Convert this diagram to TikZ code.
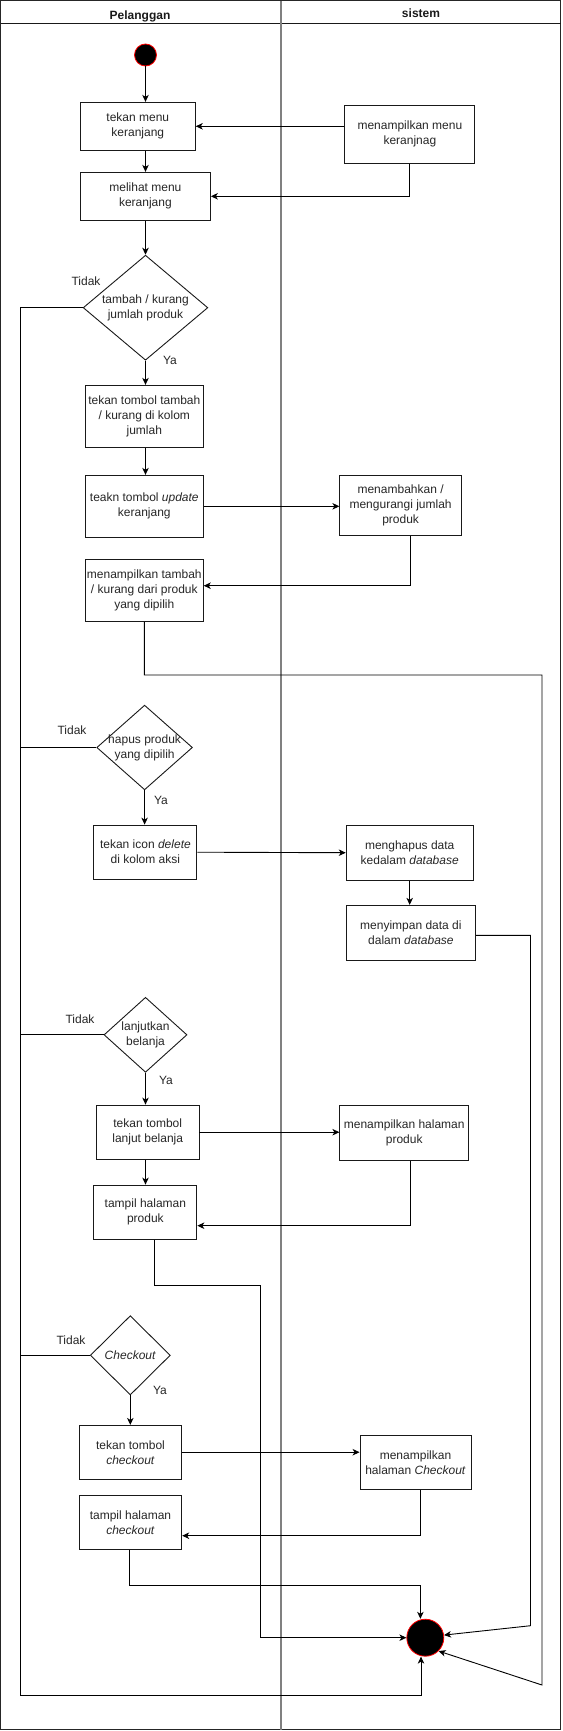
\documentclass[tikz,border=0pt]{standalone}
\usepackage{fontspec}
\setmainfont{Liberation Sans}
\usetikzlibrary{arrows.meta,shapes.geometric,calc}
\begin{document}
\begin{tikzpicture}[x=1pt,y=-1pt,
  every node/.style={font=\fontsize{12}{15}\selectfont, text=black!85},
  box/.style={draw=black!90, line width=0.9pt, rectangle, align=center, inner sep=0pt},
  dec/.style={draw=black!90, line width=0.9pt, diamond, inner sep=0pt},
  dect/.style={align=center, inner sep=0pt},
  dot/.style={circle, fill=black, draw=red, line width=0.8pt, inner sep=0pt},
  lbl/.style={inner sep=1pt},
  hdr/.style={font=\bfseries\fontsize{12}{15}\selectfont, text=black!90},
  arr/.style={draw=black, line width=0.9pt, -{Stealth[length=7pt,width=6.5pt,inset=2pt]}},
  ln/.style={draw=black, line width=0.9pt}]
\useasboundingbox (0,0) rectangle (562,1731);
% frame
\draw[black!85, line width=1.3pt] (0.8,0.8) rectangle (560.6,1729.6);
\draw[black!90, line width=1pt] (0.8,23.3) -- (560.6,23.3);
\draw[black!50, line width=2pt] (280.7,0.8) -- (280.7,1729.6);
\node[hdr] (h1) at (140,16) {Pelanggan};
\node[hdr] (h2) at (421,13) {sistem};

% nodes
\node[dot, minimum size=22pt] (start) at (145.5,55) {};
\node[box, minimum width=115pt, minimum height=48pt] (b1) at (137.8,126.3) {tekan menu\\keranjang};
\node[box, minimum width=130pt, minimum height=58pt] (s1) at (409.9,134.3) {menampilkan menu\\keranjnag};
\node[box, minimum width=130pt, minimum height=48pt] (b2) at (145.4,196.3) {melihat menu\\keranjang};
\node[dec, minimum width=124.7pt, minimum height=105pt] (d1) at (145.5,307.7) {};
\node[dect] (d1t) at (d1) {tambah / kurang\\jumlah produk};
\node[box, minimum width=118pt, minimum height=62pt] (b3) at (144.3,416.3) {tekan tombol tambah\\/ kurang di kolom\\jumlah};
\node[box, minimum width=118pt, minimum height=62pt] (b4) at (144.3,506.3) {teakn tombol \textit{update}\\keranjang};
\node[box, minimum width=121.5pt, minimum height=60pt] (s2) at (400.6,505.2) {menambahkan /\\mengurangi jumlah\\produk};
\node[box, minimum width=118pt, minimum height=62pt] (b5) at (144.3,590.3) {menampilkan tambah\\/ kurang dari produk\\yang dipilih};
\node[dec, minimum width=95.7pt, minimum height=84.7pt] (d2) at (144.6,747.5) {};
\node[dect] (d2t) at (d2) {hapus produk\\yang dipilih};
\node[box, minimum width=103pt, minimum height=54.3pt] (b6) at (145.4,852.2) {tekan icon \textit{delete}\\di kolom aksi};
\node[box, minimum width=127pt, minimum height=55pt] (s3) at (409.7,852.7) {menghapus data\\kedalam \textit{database}};
\node[box, minimum width=129.4pt, minimum height=55pt] (s4) at (410.9,932.8) {menyimpan data di\\dalam \textit{database}};
\node[dec, minimum width=83pt, minimum height=75pt] (d3) at (145.5,1034.8) {};
\node[dect] (d3t) at (d3) {lanjutkan\\belanja};
\node[box, minimum width=102.5pt, minimum height=54.3pt] (b7) at (147.7,1132.2) {tekan tombol\\lanjut belanja};
\node[box, minimum width=128.7pt, minimum height=55pt] (s5) at (404.2,1132.7) {menampilkan halaman\\produk};
\node[box, minimum width=103pt, minimum height=54.3pt] (b8) at (145.4,1212.2) {tampil halaman\\produk};
\node[dec, minimum width=80pt, minimum height=79.3pt] (d4) at (130.3,1355.3) {};
\node[dect] (d4t) at (d4) {\textit{Checkout}};
\node[box, minimum width=102.5pt, minimum height=53.7pt] (b9) at (130.5,1452.2) {tekan tombol\\\textit{checkout}};
\node[box, minimum width=111pt, minimum height=54pt] (s6) at (415.5,1462.3) {menampilkan\\halaman \textit{Checkout}};
\node[box, minimum width=102.5pt, minimum height=54pt] (b10) at (130.5,1522.3) {tampil halaman\\\textit{checkout}};
\node[dot, minimum size=37pt] (end) at (425.3,1637.7) {};

% labels
\node[lbl] (t1) at (86,281) {Tidak};
\node[lbl] (y1) at (170,360) {Ya};
\node[lbl] (t2) at (72,730) {Tidak};
\node[lbl] (y2) at (161,800) {Ya};
\node[lbl] (t3) at (80,1019) {Tidak};
\node[lbl] (y3) at (166,1080) {Ya};
\node[lbl] (t4) at (71,1340) {Tidak};
\node[lbl] (y4) at (160,1390) {Ya};

% coordinates
\coordinate (L1) at (20.8,1695);
\coordinate (ex) at (421,1695);
\coordinate (c2) at (410.4,585.7);
\coordinate (c3a) at (144.4,675);
\coordinate (c3b) at (542,675);
\coordinate (c3c) at (542,1685);
\coordinate (c4a) at (530.5,935.3);
\coordinate (c4b) at (530.5,1625.7);
\coordinate (c5) at (410.4,1225.7);
\coordinate (c6a) at (154.1,1285.7);
\coordinate (c6b) at (260.2,1285.7);
\coordinate (c7) at (420.4,1535.7);
\coordinate (c8) at (129.7,1585.3);
\coordinate (c8b) at (420.4,1585.3);

% connectors
\draw[arr] (start) -- (start |- b1.north);
\draw[arr] (s1.west |- b1.east) -- (b1.east);
\draw[arr] (start |- b1.south) -- (start |- b2.north);
\draw[arr] (s1.south) |- (b2.east);
\draw[arr] (start |- b2.south) -- (d1.north);
\draw[arr] (d1.south) -- (d1.south |- b3.north);
\draw[arr] (d1.west) -| (L1) -- (ex) -- (ex |- end.south);
\draw[arr] (start |- b3.south) -- (start |- b4.north);
\draw[arr] (b4.east) -- (s2.west |- b4.east);
\draw[arr] (s2.south -| c2) -- (c2) -- (c2 -| b5.east);
\draw[arr] (b5.south -| c3a) -- (c3a) -- (c3b) -- (c3c) -- (end.south east);
\draw[ln] (d2.west) -- (d2.west -| L1);
\draw[arr] (d2.south) -- (d2.south |- b6.north);
\draw[arr] (b6.east) -- (s3.west);
\draw[arr] (s3.south) -- (s3.south |- s4.north);
\draw[arr] (s4.east |- c4a) -- (c4a) -- (c4b) -- (end.8);
\draw[ln] (d3.west) -- (d3.west -| L1);
\draw[arr] (d3.south) -- (d3.south |- b7.north);
\draw[arr] (b7.east) -- (s5.west |- b7.east);
\draw[arr] (d3.south |- b7.south) -- (d3.south |- b8.north);
\draw[arr] (s5.south -| c5) -- (c5) -- (c5 -| b8.east);
\draw[arr] (b8.south -| c6a) -- (c6a) -- (c6b) |- (end.west);
\draw[ln] (d4.west) -- (d4.west -| L1);
\draw[arr] (d4.south) -- (d4.south |- b9.north);
\draw[arr] (b9.east) -- (s6.west |- b9.east);
\draw[arr] (s6.south -| c7) -- (c7) -- (c7 -| b10.east);
\draw[arr] (b10.south -| c8) -- (c8) -- (c8b) -- (c8b |- end.north);
\end{tikzpicture}
\end{document}
